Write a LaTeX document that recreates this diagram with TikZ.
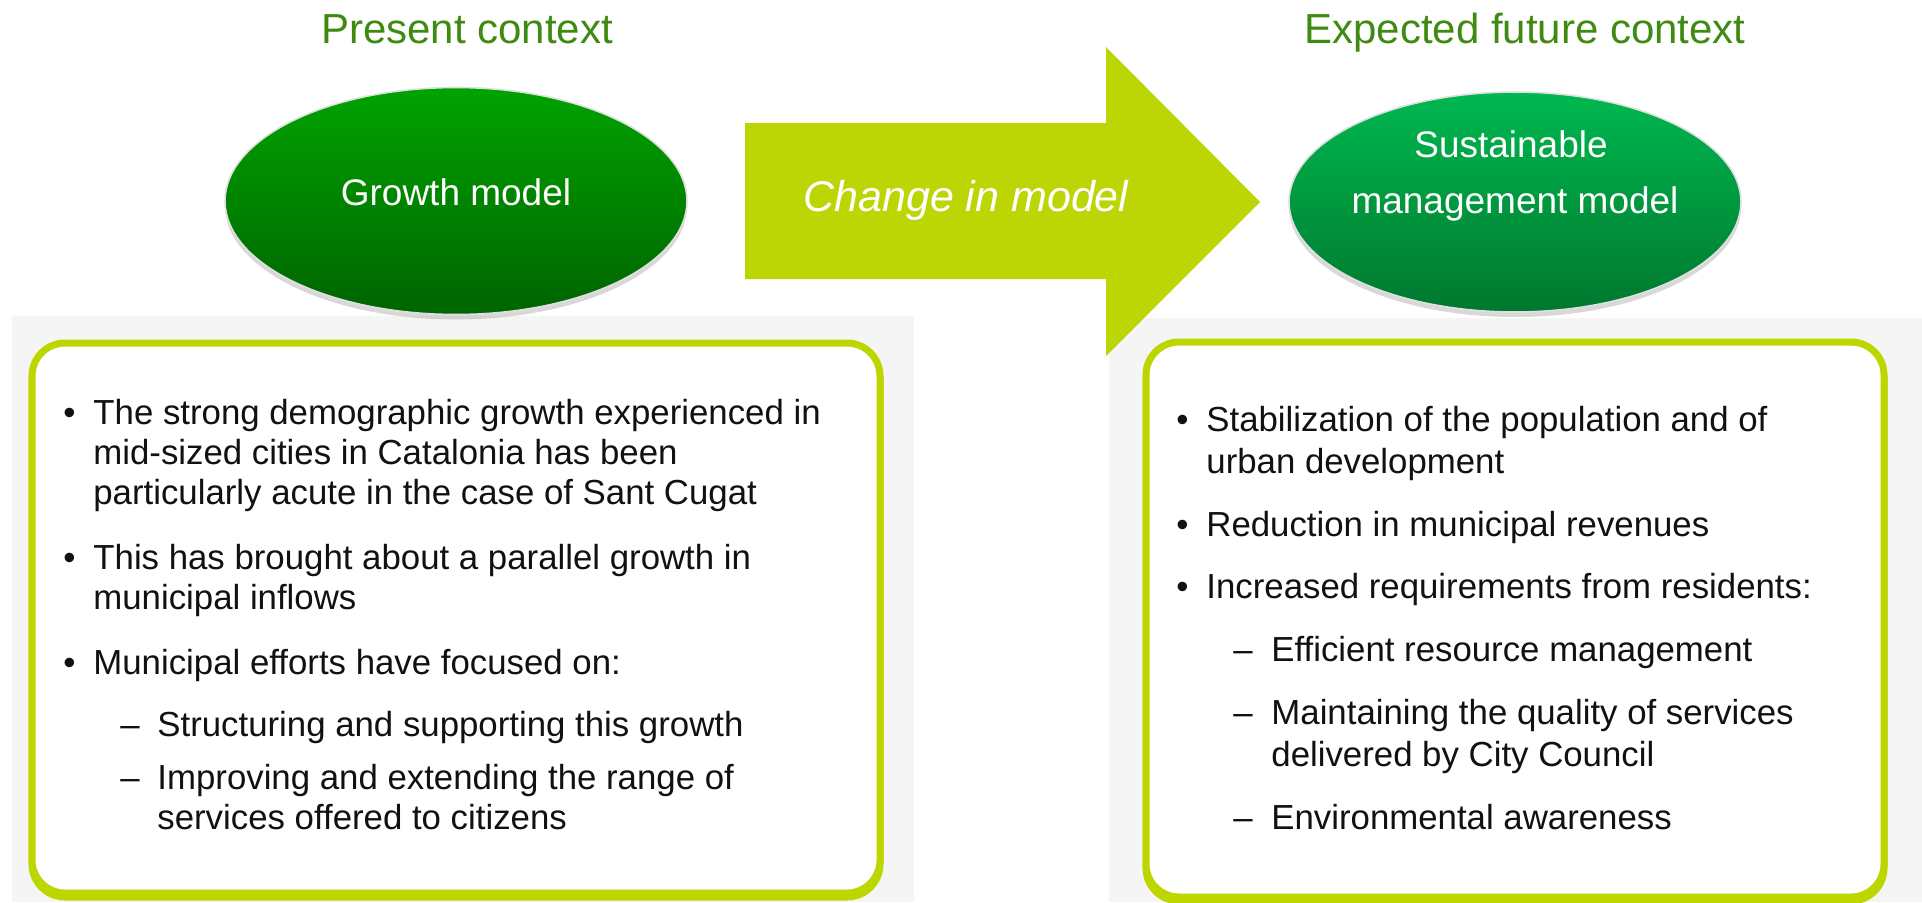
\documentclass[tikz,border=0pt]{standalone}
\usepackage{fontspec}
\setmainfont{Liberation Sans}
\usetikzlibrary{shapes.geometric,shadows}
\definecolor{titlegreen}{HTML}{3F8A10}
\definecolor{lime}{HTML}{BCD505}
\definecolor{boxlime}{HTML}{BDD600}
\definecolor{panelgray}{HTML}{F5F5F5}
\definecolor{gtopA}{HTML}{00A300}
\definecolor{gbotA}{HTML}{006400}
\definecolor{gtopB}{HTML}{00B850}
\definecolor{gbotB}{HTML}{00782E}
\definecolor{bodyink}{HTML}{111111}
\begin{document}
\begin{tikzpicture}[x=0.5pt,y=-0.5pt,
  titletext/.style={font=\fontsize{21}{25}\selectfont, text=titlegreen, anchor=base, inner sep=0pt},
  bodytext/.style={font=\fontsize{17.4}{20}\selectfont, text=bodyink, anchor=mid west, inner sep=0pt},
  ovaltext/.style={font=\fontsize{18.5}{22}\selectfont, text=white, anchor=mid, inner sep=0pt},
  oval/.style={ellipse, draw=black!12, line width=0.8pt, inner sep=0pt,
     drop shadow={shadow xshift=0pt, shadow yshift=-2.5pt, opacity=0.25, fill=black!60}},
  panel/.style={fill=panelgray, draw=none},
  listbox/.style={fill=white, draw=boxlime, line width=3.5pt, rounded corners=16.5pt},
  boxshadow/.style={fill=boxlime, draw=boxlime, line width=3.5pt, rounded corners=16.5pt}
]
\useasboundingbox (0,0) rectangle (1922,902);
\fill[white] (0,0) rectangle (1922,902);

% background panels
\fill[panel] (12,316) rectangle (914,902);
\fill[panel] (1109,318) rectangle (1922,902);

% titles
\node[titletext] (t1) at (467,43) {Present context};
\node[titletext] (t2) at (1525,43) {Expected future context};

% arrow
\fill[lime] (745,123) -- (1106,123) -- (1106,47) -- (1260,202) -- (1106,356) -- (1106,279) -- (745,279) -- cycle;
\node[font=\fontsize{21.5}{25}\selectfont\itshape, text=white, anchor=mid, inner sep=0pt] (chg) at (966,206) {Change in model};

% ellipses
\node[oval, top color=gtopA, bottom color=gbotA, minimum width=231pt, minimum height=113.5pt] (e1) at (456,201) {};
\node[ovaltext] (e1t) at (456,200) {Growth model};
\node[oval, top color=gtopB, bottom color=gbotB, minimum width=226pt, minimum height=110pt] (e2) at (1515,202) {};
\node[ovaltext] (e2a) at (1511,152) {Sustainable};
\node[ovaltext] (e2b) at (1515,208) {management model};

% boxes
\draw[boxshadow] (32,347) rectangle (880,897);
\draw[listbox] (32,343) rectangle (880,893);
\draw[boxshadow] (1146,346) rectangle (1884,901);
\draw[listbox] (1146,342) rectangle (1884,897);

% left list
\node[bodytext] (lb1) at (63,419) {•};
\node[bodytext] (l1) at (93,419) {The strong demographic growth experienced in};
\node[bodytext] (l2) at (93,459) {mid-sized cities in Catalonia has been};
\node[bodytext] (l3) at (93,499) {particularly acute in the case of Sant Cugat};
\node[bodytext] (lb2) at (63,564) {•};
\node[bodytext] (l4) at (93,564) {This has brought about a parallel growth in};
\node[bodytext] (l5) at (93,604) {municipal inflows};
\node[bodytext] (lb3) at (63,669) {•};
\node[bodytext] (l6) at (93,669) {Municipal efforts have focused on:};
\node[bodytext] (ld1) at (120,731) {–};
\node[bodytext] (l7) at (157,731) {Structuring and supporting this growth};
\node[bodytext] (ld2) at (120,784) {–};
\node[bodytext] (l8) at (157,784) {Improving and extending the range of};
\node[bodytext] (l9) at (157,824) {services offered to citizens};

% right list
\node[bodytext] (rb1) at (1176,426) {•};
\node[bodytext] (r1) at (1206,426) {Stabilization of the population and of};
\node[bodytext] (r2) at (1206,468) {urban development};
\node[bodytext] (rb2) at (1176,531) {•};
\node[bodytext] (r3) at (1206,531) {Reduction in municipal revenues};
\node[bodytext] (rb3) at (1176,593) {•};
\node[bodytext] (r4) at (1206,593) {Increased requirements from residents:};
\node[bodytext] (rd1) at (1233,656) {–};
\node[bodytext] (r5) at (1271,656) {Efficient resource management};
\node[bodytext] (rd2) at (1233,719) {–};
\node[bodytext] (r6) at (1271,719) {Maintaining the quality of services};
\node[bodytext] (r7) at (1271,761) {delivered by City Council};
\node[bodytext] (rd3) at (1233,824) {–};
\node[bodytext] (r8) at (1271,824) {Environmental awareness};
\end{tikzpicture}
\end{document}
